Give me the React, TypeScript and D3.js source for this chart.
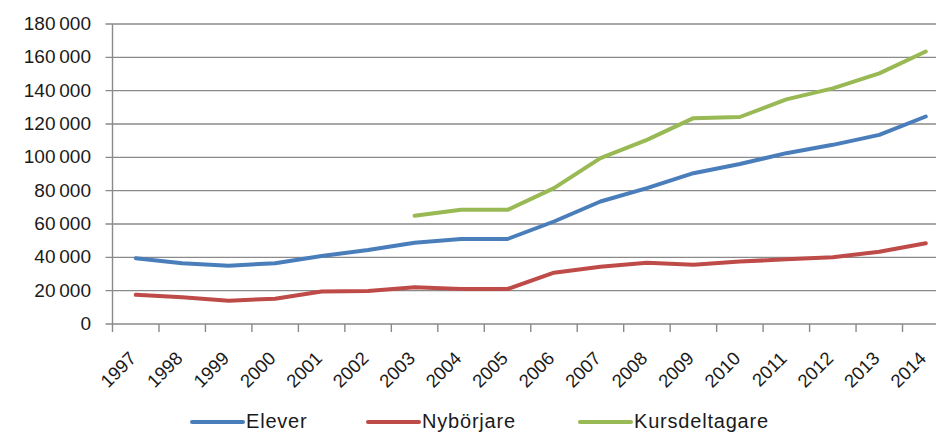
import React, { useEffect, useRef } from 'react';
import * as d3 from 'd3';

const years = ['1997', '1998', '1999', '2000', '2001', '2002', '2003', '2004', '2005',
  '2006', '2007', '2008', '2009', '2010', '2011', '2012', '2013', '2014'];

const elever = [39500, 36500, 35000, 36500, 40800, 44400, 48800, 51000, 51000,
  61500, 73500, 81500, 90500, 96000, 102500, 107500, 113500, 124500];

const nyborjare = [17500, 16000, 14000, 15200, 19500, 19800, 22000, 21000, 21000,
  30800, 34400, 36800, 35500, 37500, 38800, 40000, 43400, 48500];

const kursdeltagare = [null, null, null, null, null, null, 65000, 68500, 68500,
  81500, 99500, 110500, 123500, 124200, 134800, 141400, 150400, 163500];

const yTicks = [0, 20000, 40000, 60000, 80000, 100000, 120000, 140000, 160000, 180000];

const series = [
  { name: 'Elever', values: elever, color: '#4a7ebb' },
  { name: 'Nybörjare', values: nyborjare, color: '#be4b48' },
  { name: 'Kursdeltagare', values: kursdeltagare, color: '#98b954' },
];

const W = 936;
const H = 432;

const App = () => {
  const ref = useRef<SVGSVGElement | null>(null);

  useEffect(() => {
    if (!ref.current) return;
    const svg = d3.select(ref.current);
    svg.selectAll('*').remove();

    const left = 112.5;
    const right = 949;
    const top = 24;
    const bottom = 324;

    const x = d3.scaleBand<string>().domain(years).range([left, right]).padding(0);
    const y = d3.scaleLinear().domain([0, 180000]).range([bottom, top]);
    const cx = (d: string) => (x(d) as number) + x.bandwidth() / 2;

    // gridlines
    svg.append('g')
      .selectAll('line')
      .data(yTicks.filter(t => t > 0))
      .join('line')
      .attr('x1', left - 7)
      .attr('x2', W)
      .attr('y1', d => y(d))
      .attr('y2', d => y(d))
      .attr('stroke', '#8a8a8a')
      .attr('stroke-width', 1.4);

    // x axis line
    svg.append('line')
      .attr('x1', left - 7).attr('x2', W)
      .attr('y1', bottom).attr('y2', bottom)
      .attr('stroke', '#8a8a8a').attr('stroke-width', 1.4);

    // y axis line
    svg.append('line')
      .attr('x1', left).attr('x2', left)
      .attr('y1', top).attr('y2', bottom + 8)
      .attr('stroke', '#8a8a8a').attr('stroke-width', 1.4);

    // x ticks at band boundaries
    svg.append('g')
      .selectAll('line')
      .data(years.slice(1))
      .join('line')
      .attr('x1', d => x(d) as number)
      .attr('x2', d => x(d) as number)
      .attr('y1', bottom)
      .attr('y2', bottom + 8)
      .attr('stroke', '#8a8a8a')
      .attr('stroke-width', 1.4);

    // y labels
    const fmt = (v: number) => d3.format(',')(v).replace(/,/g, '\u2009');
    svg.append('g')
      .selectAll('text')
      .data(yTicks)
      .join('text')
      .attr('x', 91)
      .attr('y', d => y(d) + 1)
      .attr('text-anchor', 'end')
      .attr('dominant-baseline', 'middle')
      .attr('font-family', 'Liberation Sans, Arial, sans-serif')
      .attr('font-size', 19)
      .attr('fill', '#1a1a1a')
      .text(d => fmt(d));

    // x labels
    svg.append('g')
      .selectAll('text')
      .data(years)
      .join('text')
      .attr('transform', d => `translate(${cx(d) - 3},${bottom + 31}) rotate(-45)`)
      .attr('text-anchor', 'end')
      .attr('dominant-baseline', 'central')
      .attr('font-family', 'Liberation Sans, Arial, sans-serif')
      .attr('font-size', 18.5)
      .attr('fill', '#1a1a1a')
      .text(d => d);

    // lines
    const line = d3.line<number | null>()
      .defined(d => d !== null)
      .x((_, i) => cx(years[i]))
      .y(d => y(d as number));

    svg.append('g')
      .selectAll('path')
      .data(series)
      .join('path')
      .attr('d', d => line(d.values as (number | null)[]))
      .attr('fill', 'none')
      .attr('stroke', d => d.color)
      .attr('stroke-width', 4)
      .attr('stroke-linecap', 'round')
      .attr('stroke-linejoin', 'round');

    // legend
    const legendX = [192, 368, 580];
    const lg = svg.append('g')
      .selectAll('g')
      .data(series)
      .join('g')
      .attr('transform', (_, i) => `translate(${legendX[i]},422)`);
    lg.append('line')
      .attr('x1', 0).attr('x2', 51)
      .attr('y1', 0).attr('y2', 0)
      .attr('stroke', d => d.color)
      .attr('stroke-width', 4)
      .attr('stroke-linecap', 'round');
    lg.append('text')
      .attr('x', 54)
      .attr('y', 1)
      .attr('dominant-baseline', 'middle')
      .attr('font-family', 'Liberation Sans, Arial, sans-serif')
      .attr('font-size', 20)
      .attr('letter-spacing', 0.8)
      .attr('fill', '#1a1a1a')
      .text(d => d.name);
  }, []);

  return (
    <svg ref={ref} width={W} height={H}
      style={{ position: 'absolute', top: 0, left: 0, background: '#fff' }} />
  );
};

export default App;
